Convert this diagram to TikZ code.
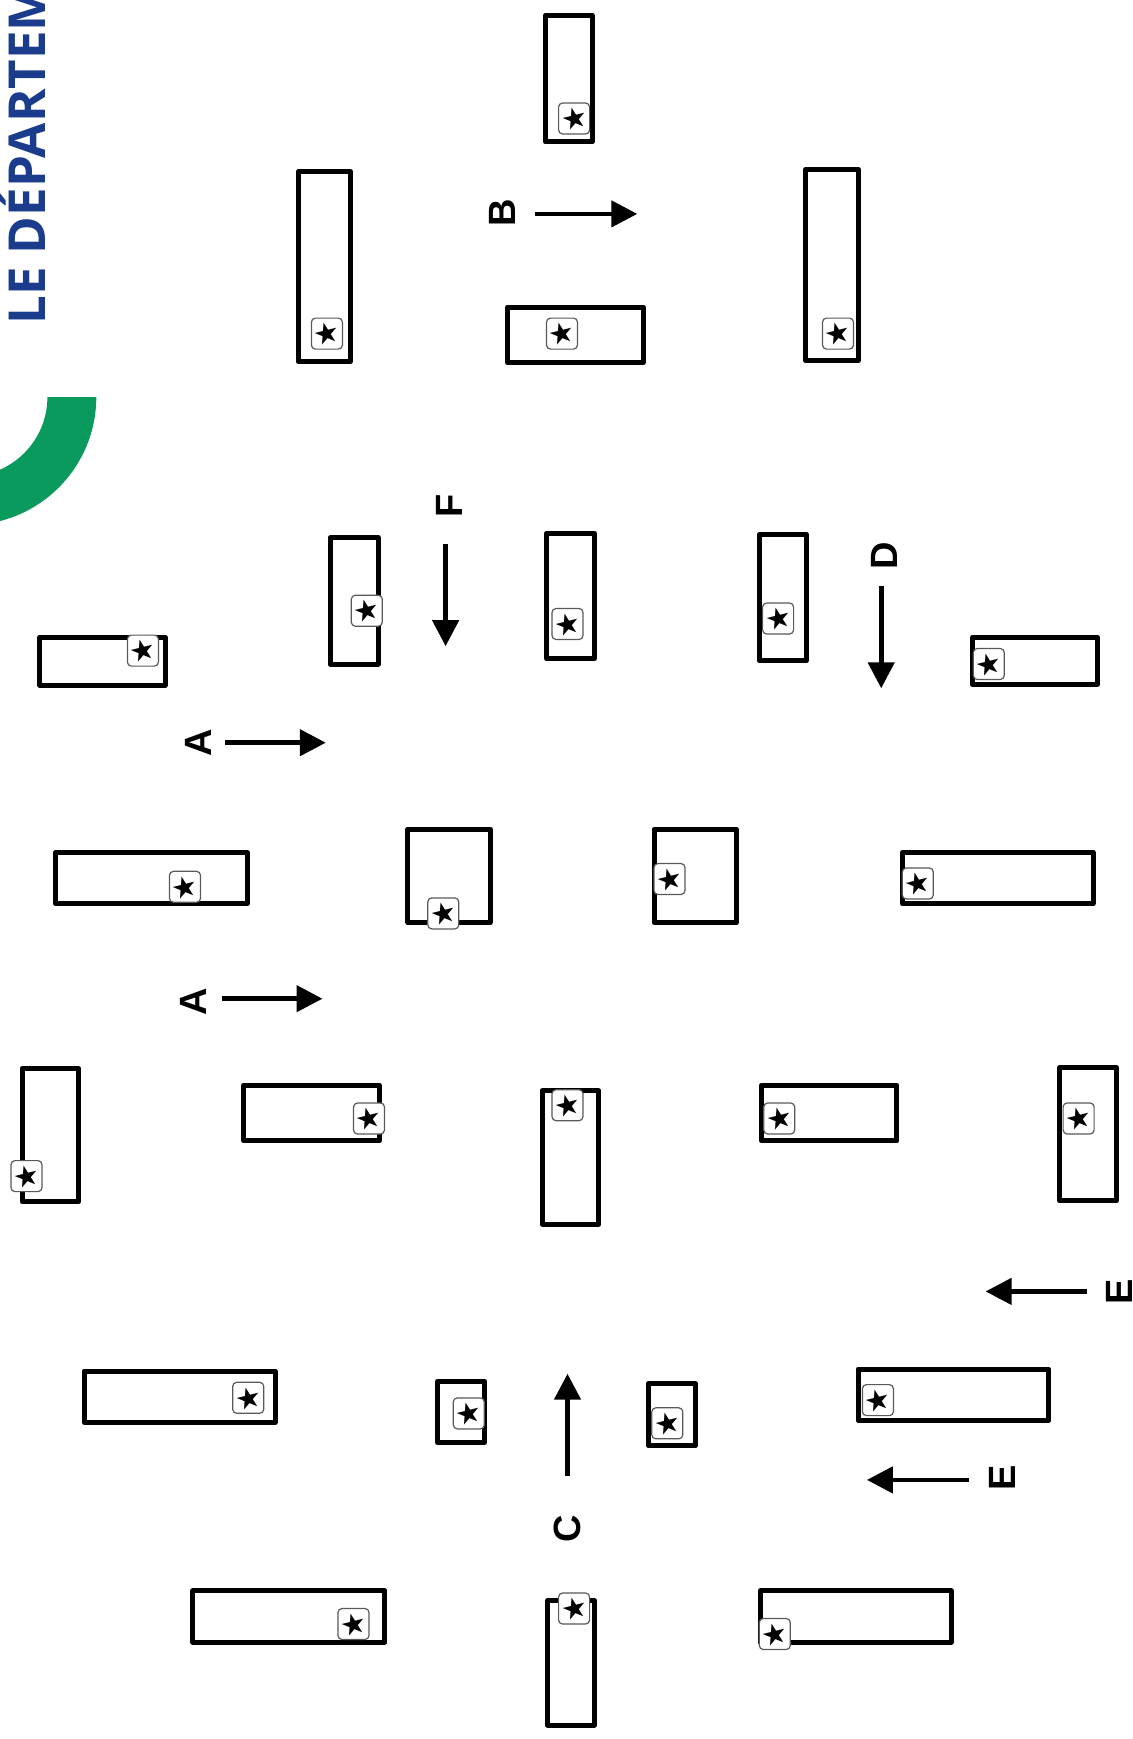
\documentclass[tikz,border=0pt]{standalone}
\usepackage{fontspec}
\setmainfont{Liberation Sans}
\newfontfamily\starfont{DejaVu Sans}
\newfontfamily\logofont{Open Sans}
\usetikzlibrary{arrows.meta}
\definecolor{logoblue}{HTML}{1B3C8C}
\definecolor{logogreen}{HTML}{0B9A5E}
\newcommand{\starmark}{\rotatebox{14}{\starfont\fontsize{14.5pt}{14.5pt}\selectfont ★}}

\begin{document}
\begin{tikzpicture}[x=0.5pt,y=-0.5pt,>={Triangle[length=13pt,width=13pt]}]
  \tikzstyle{bay}=[draw=black,line width=2.5pt,line join=round,inner sep=0pt,outer sep=0pt]
  \tikzstyle{starbox}=[draw=black!65,fill=white,line width=0.6pt,rounded corners=2pt,inner sep=0pt,minimum size=15.5pt]
  \tikzstyle{walk}=[->,line width=2.3pt]
  \tikzstyle{walklabel}=[font=\bfseries\fontsize{19pt}{19pt}\selectfont,rotate=90,inner sep=0pt]

  \useasboundingbox (0,0) rectangle (1133,1739);

  % logo
  \fill[logogreen] (96.3,397) arc (0:90:128) -- (-32,476.4) arc (90:0:79.4) -- cycle;
  \node[rotate=90,anchor=base west,inner sep=0pt,text=logoblue,font=\logofont\bfseries\fontsize{25.5pt}{25.5pt}\selectfont]
    (logo) at (46,325) {LE DÉPARTEM};

  % bays
  \node[bay,minimum width=23.4pt,minimum height=63.3pt] (R1) at (568.7,78.7) {};
  \node[bay,minimum width=26.2pt,minimum height=94.9pt] (R2) at (324.3,266.6) {};
  \node[bay,minimum width=67.7pt,minimum height=27.8pt] (R3) at (575.4,334.8) {};
  \node[bay,minimum width=26.2pt,minimum height=95.4pt] (R4) at (832,265) {};
  \node[bay,minimum width=23.9pt,minimum height=63.3pt] (R5) at (354.2,600.9) {};
  \node[bay,minimum width=23.9pt,minimum height=62.7pt] (R6) at (570.4,595.9) {};
  \node[bay,minimum width=23.4pt,minimum height=63.3pt] (R7) at (782.7,597.5) {};
  \node[bay,minimum width=62.7pt,minimum height=23.9pt] (R8) at (102.5,661.3) {};
  \node[bay,minimum width=62.7pt,minimum height=23.4pt] (R9) at (1034.9,660.7) {};
  \node[bay,minimum width=96pt,minimum height=25.6pt] (R10) at (151.3,878) {};
  \node[bay,minimum width=41.1pt,minimum height=46.7pt] (R11) at (449,875.8) {};
  \node[bay,minimum width=41.1pt,minimum height=46.7pt] (R12) at (695.1,875.8) {};
  \node[bay,minimum width=95.4pt,minimum height=25.6pt] (R13) at (997.7,878) {};
  \node[bay,minimum width=28.4pt,minimum height=66.6pt] (R14) at (50.4,1135.2) {};
  \node[bay,minimum width=67.7pt,minimum height=27.8pt] (R15) at (311.5,1113) {};
  \node[bay,minimum width=28.4pt,minimum height=66.6pt] (R16) at (570.4,1157.4) {};
  \node[bay,minimum width=67.7pt,minimum height=27.8pt] (R17) at (829.2,1113) {};
  \node[bay,minimum width=28.4pt,minimum height=66.6pt] (R18) at (1088.1,1134.1) {};
  \node[bay,minimum width=95.4pt,minimum height=25.6pt] (R19) at (179.6,1396.8) {};
  \node[bay,minimum width=23.4pt,minimum height=30.6pt] (R20) at (461.2,1411.8) {};
  \node[bay,minimum width=23.4pt,minimum height=31.1pt] (R21) at (671.8,1414.6) {};
  \node[bay,minimum width=95.4pt,minimum height=25.6pt] (R22) at (953.4,1394.6) {};
  \node[bay,minimum width=96pt,minimum height=25.6pt] (R23) at (288.8,1616.4) {};
  \node[bay,minimum width=23.4pt,minimum height=62.2pt] (R24) at (570.9,1662.9) {};
  \node[bay,minimum width=95.4pt,minimum height=25.6pt] (R25) at (855.8,1616.4) {};

  % stars
  \node[starbox] (S1) at (574.1,118.5) {\starmark};
  \node[starbox] (S2) at (326.9,333.6) {\starmark};
  \node[starbox] (S3) at (562,333.6) {\starmark};
  \node[starbox] (S4) at (838,333.6) {\starmark};
  \node[starbox] (S5) at (366.8,610.7) {\starmark};
  \node[starbox] (S6) at (567.5,624) {\starmark};
  \node[starbox] (S7) at (778.1,618.5) {\starmark};
  \node[starbox] (S8) at (142.9,650.6) {\starmark};
  \node[starbox] (S9) at (988.8,664) {\starmark};
  \node[starbox] (S10) at (185,886.8) {\starmark};
  \node[starbox] (S11) at (443.3,913.4) {\starmark};
  \node[starbox] (S12) at (669.5,879) {\starmark};
  \node[starbox] (S13) at (917.8,883.5) {\starmark};
  \node[starbox] (S14) at (26.5,1176.1) {\starmark};
  \node[starbox] (S15) at (369,1118.5) {\starmark};
  \node[starbox] (S16) at (567.5,1105.2) {\starmark};
  \node[starbox] (S17) at (779.2,1118.5) {\starmark};
  \node[starbox] (S18) at (1078.6,1118.5) {\starmark};
  \node[starbox] (S19) at (248.2,1397.8) {\starmark};
  \node[starbox] (S20) at (468.8,1413.4) {\starmark};
  \node[starbox] (S21) at (667.3,1423.3) {\starmark};
  \node[starbox] (S22) at (877.9,1400.1) {\starmark};
  \node[starbox] (S23) at (353.5,1624) {\starmark};
  \node[starbox] (S24) at (574.1,1608.5) {\starmark};
  \node[starbox] (S25) at (774.8,1634) {\starmark};

  % walking directions
  \coordinate (Bs) at (535.4,213.9);   \coordinate (Be) at (637.3,213.9);
  \coordinate (Fs) at (445.6,544.3);   \coordinate (Fe) at (445.6,646.2);
  \coordinate (Ds) at (881.2,586.4);   \coordinate (De) at (881.2,688.3);
  \coordinate (As) at (225,742.7);     \coordinate (Ae) at (325.8,742.7);
  \coordinate (Gs) at (221.7,998.7);   \coordinate (Ge) at (322.5,998.7);
  \coordinate (Es) at (1087.4,1291.4); \coordinate (Ee) at (985.6,1291.4);
  \coordinate (Hs) at (968.8,1479.9);  \coordinate (He) at (866.9,1479.9);
  \coordinate (Cs) at (567.5,1475.5);  \coordinate (Ce) at (567.5,1373.7);

  \path (Bs) edge [walk] (Be)
        (Fs) edge [walk] (Fe)
        (Ds) edge [walk] (De)
        (As) edge [walk] (Ae)
        (Gs) edge [walk] (Ge)
        (Es) edge [walk] (Ee)
        (Hs) edge [walk] (He)
        (Cs) edge [walk] (Ce);

  \node[walklabel] (labB) at (502,213) {B};
  \node[walklabel] (labF) at (449,505.4) {F};
  \node[walklabel] (labD) at (884.5,555.3) {D};
  \node[walklabel] (labA) at (198.3,742.7) {A};
  \node[walklabel] (labG) at (193.9,1002) {A};
  \node[walklabel] (labE) at (1119,1291.4) {E};
  \node[walklabel] (labH) at (1002.1,1477.7) {E};
  \node[walklabel] (labC) at (567.5,1528.7) {C};
\end{tikzpicture}
\end{document}
